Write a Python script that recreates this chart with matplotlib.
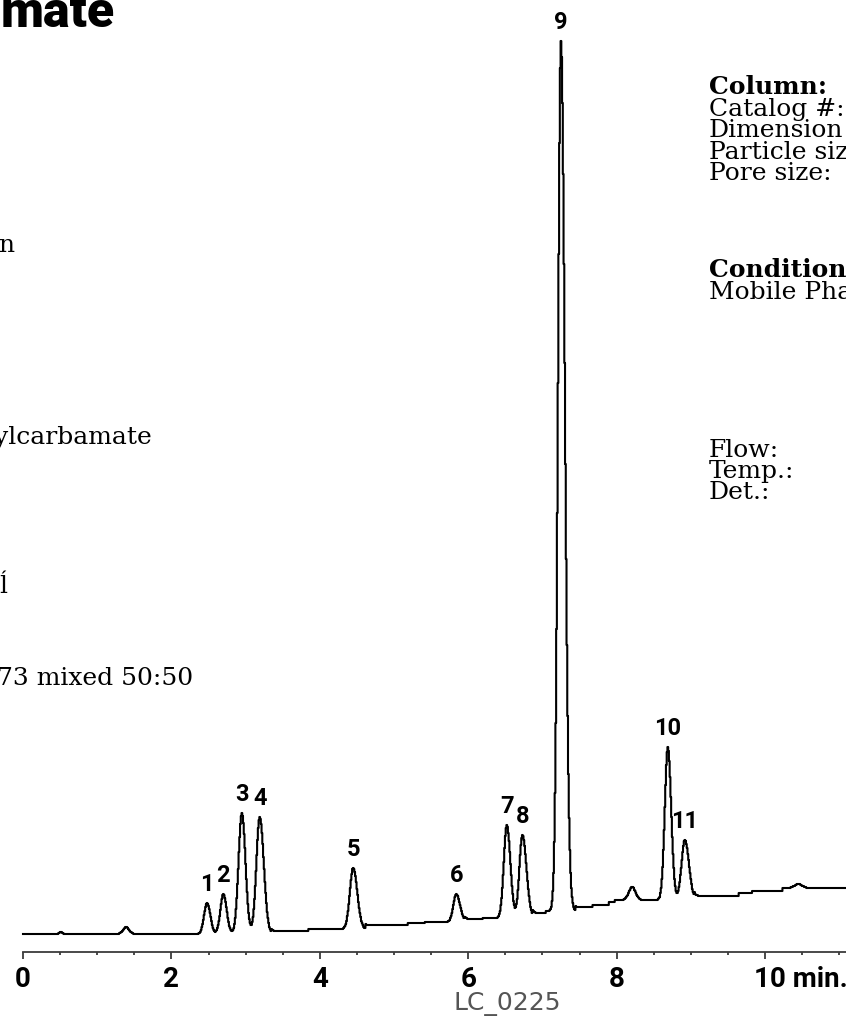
import numpy as np
import matplotlib
matplotlib.use('Agg')
from matplotlib import pyplot as plt
from matplotlib.ticker import MultipleLocator, FixedLocator
import matplotlib.transforms as mtransforms

W, H = 846, 1025

# labelled peaks: retention time (min), height above baseline, left/right widths (min)
peak_ids = ['1', '2', '3', '4', '5', '6', '7', '8', '9', '10', '11']
peak_rt = [2.48, 2.70, 2.95, 3.19, 4.45, 5.84, 6.52, 6.73, 7.25, 8.69, 8.92]
peak_amp = [31, 40, 121, 117, 61, 28, 93, 83, 870, 153, 60]
peak_sl = [0.040, 0.040, 0.045, 0.045, 0.045, 0.040, 0.040, 0.040, 0.040, 0.040, 0.045]
peak_sr = [0.045, 0.045, 0.048, 0.055, 0.055, 0.050, 0.048, 0.055, 0.052, 0.045, 0.055]

# small unlabelled bumps
bump_rt = [0.51, 1.39, 8.21, 10.45]
bump_amp = [2, 7, 13, 4]
bump_sig = [0.02, 0.04, 0.045, 0.05]

# stepwise baseline drift: level starting at each time
base_t = [0.0, 3.35, 3.85, 4.62, 5.19, 5.42, 5.95, 6.20, 6.87, 7.05, 7.45, 7.68, 7.90, 7.98, 9.05, 9.65, 9.83, 10.24]
base_lv = [0, 3, 5, 9, 11, 12, 15, 16, 21, 23, 27, 29, 32, 34, 38, 41, 43, 46]

tick_labels = ['0', '2', '4', '6', '8', '10 min.']

SANS = ['Roboto', 'DejaVu Sans']
SERIF = ['DejaVu Serif']


def peak(t, rt, amp, sl, sr):
    s = np.where(t < rt, sl, sr)
    return amp * np.exp(-0.5 * ((t - rt) / s) ** 2)


t = np.arange(0, 11.2, 0.01)
base = np.array(base_lv)[np.searchsorted(base_t, t, side='right') - 1]
sig = base.astype(float)
for rt, a, sl, sr in zip(peak_rt, peak_amp, peak_sl, peak_sr):
    sig += peak(t, rt, a, sl, sr)
for rt, a, s in zip(bump_rt, bump_amp, bump_sig):
    sig += peak(t, rt, a, s, s)
sig = np.round(sig)

fig = plt.figure(figsize=(W / 100, H / 100), dpi=100)

x0, yax = 23, 952
px_per_min = 74.2
ax = fig.add_axes([x0 / W, (H - yax) / H, (W - x0) / W, yax / H])
ax.set_xlim(0, (W - x0) / px_per_min)
ax.set_ylim(-18, 934)
ax.patch.set_alpha(0)

ax.plot(t, sig, color='black', lw=1.5, drawstyle='steps-mid', clip_on=False)

# peak numbers above each apex
for pid, rt in zip(peak_ids, peak_rt):
    top = sig[np.argmin(np.abs(t - rt))]
    ax.annotate(pid, xy=(rt, top), xytext=(0, 13), textcoords='offset points',
                ha='center', va='center', fontsize=17, fontweight='bold', family=SANS)

for s in ['left', 'right', 'top']:
    ax.spines[s].set_visible(False)
ax.spines['bottom'].set_color('#3c3c3c')
ax.spines['bottom'].set_linewidth(1.3)
ax.set_yticks([])
ax.xaxis.set_major_locator(FixedLocator([0, 2, 4, 6, 8, 10]))
ax.xaxis.set_minor_locator(MultipleLocator(0.5))
ax.tick_params(axis='x', which='major', length=5, width=1.3, color='#3c3c3c', pad=5)
ax.tick_params(axis='x', which='minor', length=2, width=1.3, color='#3c3c3c')
ax.set_xticklabels(tick_labels, fontsize=20, fontweight='bold', family=SANS)
last = ax.get_xticklabels()[-1]
last.set_ha('left')
last.set_transform(last.get_transform() + mtransforms.ScaledTranslation(-11 / 100, 0, fig.dpi_scale_trans))


def fx(px):
    return px / W


def fy(py):
    return 1 - py / H


serif = dict(family=SERIF, fontsize=18, va='baseline')

# title fragment, top left
fig.text(fx(115), fy(27), 'mate', ha='right', va='baseline', fontsize=36,
         fontweight='heavy', family=SANS)

# left column fragments (baselines)
fig.text(fx(-2), fy(252), 'n', ha='left', **serif)
fig.text(fx(-6), fy(444), 'ylcarbamate', ha='left', **serif)
fig.text(fx(-1), fy(593), 'ĺ', ha='left', **serif)
fig.text(fx(-3), fy(685), '73 mixed 50:50', ha='left', **serif)

# right column
fig.text(fx(709), fy(94), 'Column:', ha='left', fontweight='bold', **serif)
for y, s in [(116, 'Catalog #:'), (137, 'Dimension'), (159, 'Particle siz'), (180, 'Pore size:')]:
    fig.text(fx(709), fy(y), s, ha='left', **serif)
fig.text(fx(709), fy(277), 'Conditions', ha='left', fontweight='bold', **serif)
fig.text(fx(709), fy(299), 'Mobile Pha', ha='left', **serif)
for y, s in [(457, 'Flow:'), (478, 'Temp.:'), (499, 'Det.:')]:
    fig.text(fx(709), fy(y), s, ha='left', **serif)

fig.text(fx(507), fy(1004), 'LC_0225', ha='center', va='center', fontsize=18,
         color='#555555', family=['DejaVu Sans'])

fig.savefig('out.png', dpi=100)
